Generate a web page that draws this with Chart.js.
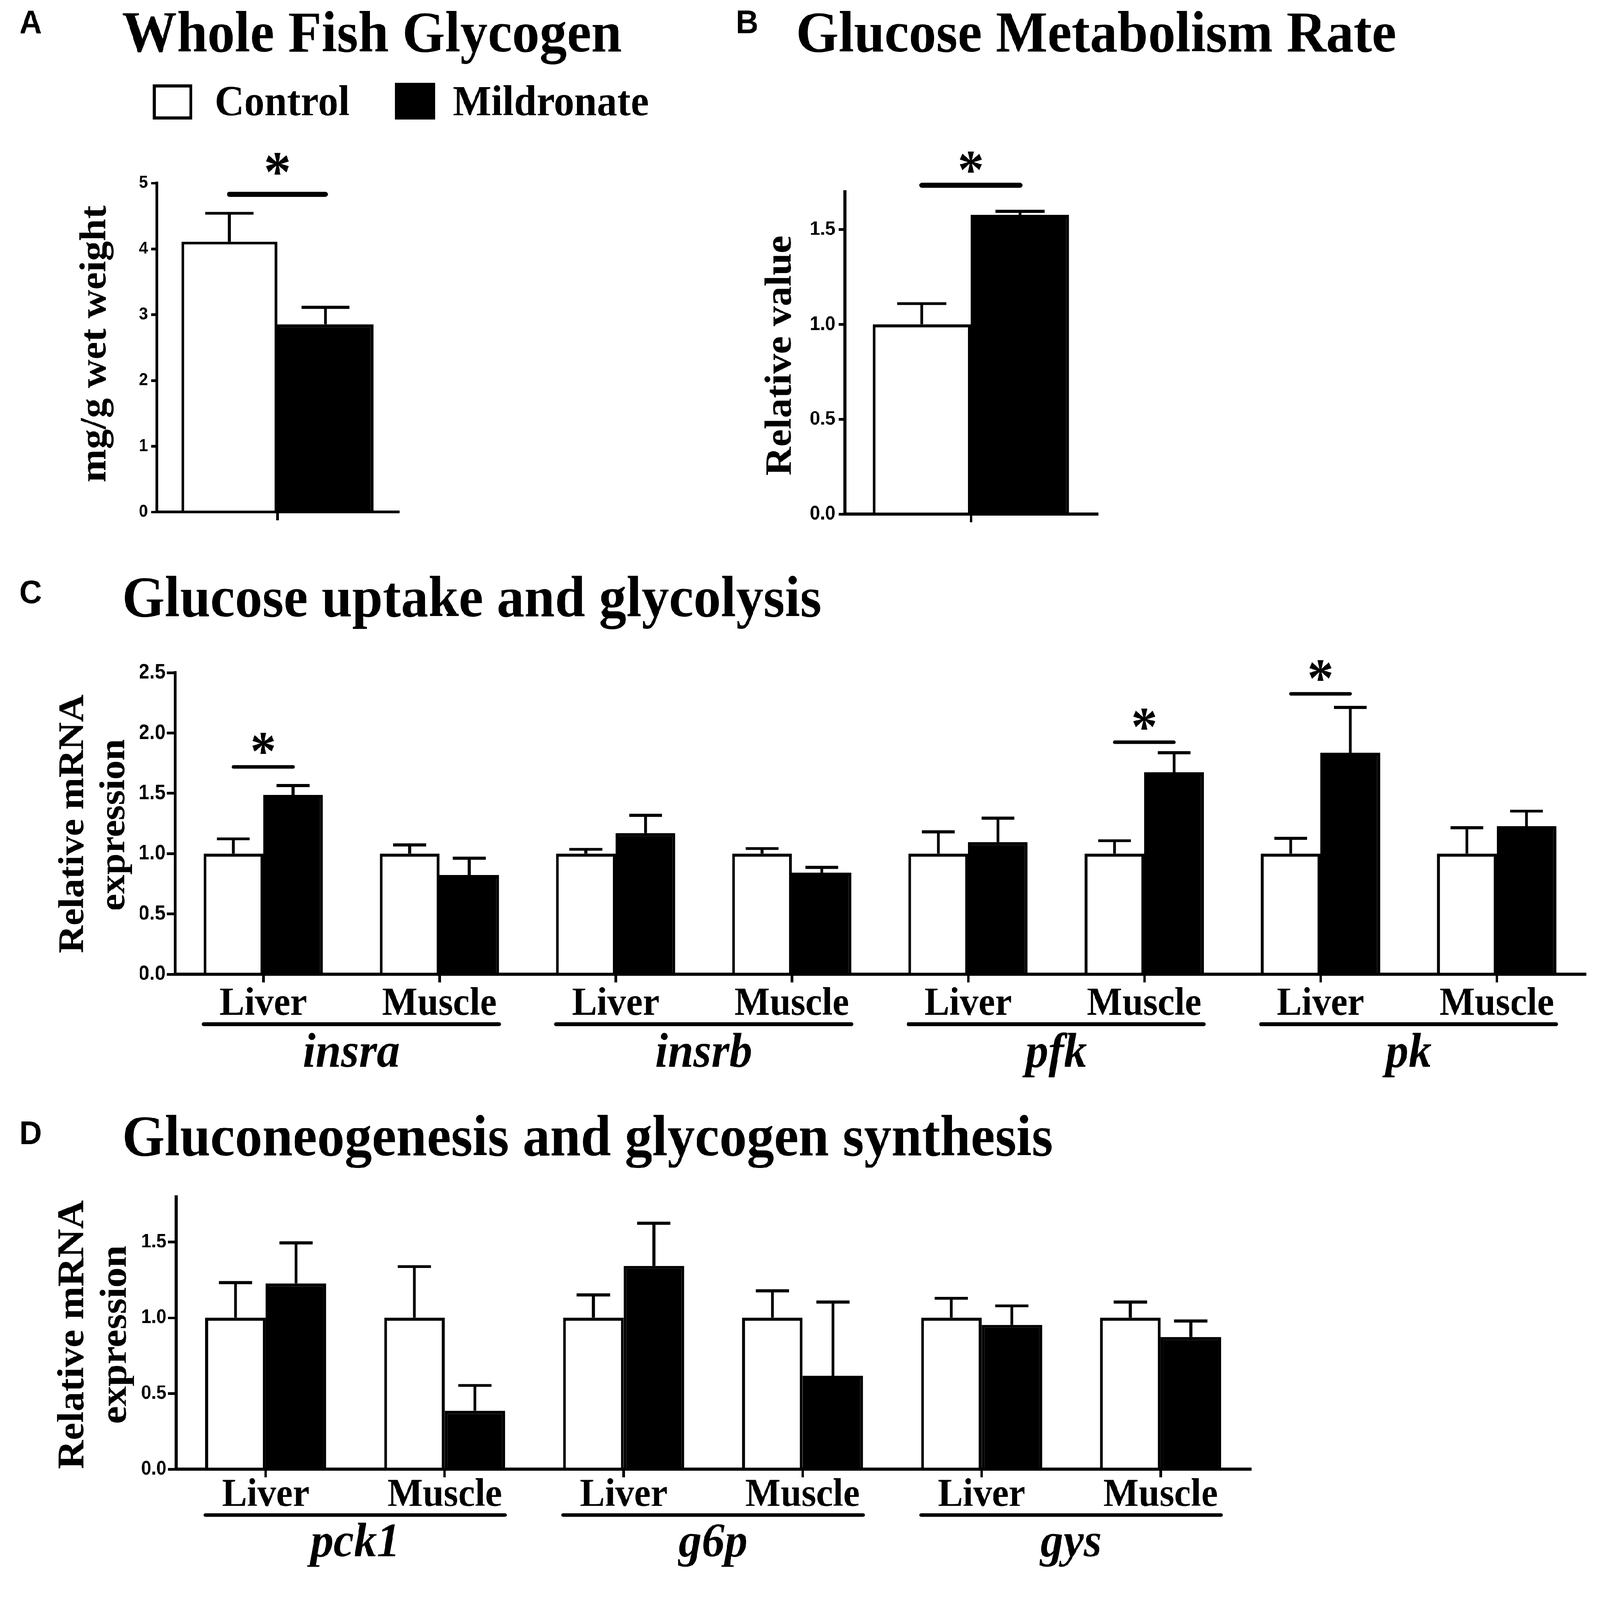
<!DOCTYPE html>
<html>
<head>
<meta charset="utf-8">
<script src="https://cdn.jsdelivr.net/npm/chart.js@4.4.1/dist/chart.umd.min.js"></script>
<style>
  html, body { margin: 0; padding: 0; background: #fff; overflow: hidden; }
  #page { position: absolute; left: 0; top: 0; width: 4522px; height: 4257px; transform-origin: 0 0; background: #fff; }
  .panel { position: absolute; }
</style>
</head>
<body>
<div id="page">
  <div class="panel" style="left:0;top:0;width:2000px;height:1480px"><canvas id="chartA" width="2000" height="1480"></canvas></div>
  <div class="panel" style="left:2000px;top:0;width:2000px;height:1480px"><canvas id="chartB" width="2000" height="1480"></canvas></div>
  <div class="panel" style="left:0;top:1480px;width:4522px;height:1460px"><canvas id="chartC" width="4522" height="1460"></canvas></div>
  <div class="panel" style="left:0;top:2940px;width:4522px;height:1317px"><canvas id="chartD" width="4522" height="1317"></canvas></div>
</div>
<script>
// ---- data ----
// A: whole fish glycogen, mg/g wet weight
var glycogenCtrl = [4.11];
var glycogenCtrlSem = [0.43];
var glycogenMild = [2.85];
var glycogenMildSem = [0.26];
var yTicksA = [0, 1, 2, 3, 4, 5];

// B: glucose metabolism rate, relative value
var rateCtrl = [1.0];
var rateCtrlSem = [0.11];
var rateMild = [1.577];
var rateMildSem = [0.02];
var yTicksB = [0, 0.5, 1.0, 1.5];

// C: glucose uptake and glycolysis
var tissuesC = ['Liver', 'Muscle', 'Liver', 'Muscle', 'Liver', 'Muscle', 'Liver', 'Muscle'];
var genesC = ['insra', 'insrb', 'pfk', 'pk'];
var ctrlC = [1, 1, 1, 1, 1, 1, 1, 1];
var ctrlSemC = [0.122, 0.072, 0.036, 0.042, 0.18, 0.107, 0.128, 0.216];
var mildC = [1.487, 0.823, 1.17, 0.842, 1.095, 1.674, 1.836, 1.228];
var mildSemC = [0.078, 0.14, 0.148, 0.045, 0.20, 0.162, 0.377, 0.125];
var sigC = [[0, 1.72], [5, 1.923], [6, 2.325]];   // [category, height of the bar]
var yTicksC = [0, 0.5, 1.0, 1.5, 2.0, 2.5];

// D: gluconeogenesis and glycogen synthesis
var tissuesD = ['Liver', 'Muscle', 'Liver', 'Muscle', 'Liver', 'Muscle'];
var genesD = ['pck1', 'g6p', 'gys'];
var ctrlD = [1, 1, 1, 1, 1, 1];
var ctrlSemD = [0.233, 0.338, 0.152, 0.178, 0.129, 0.104];
var mildD = [1.228, 0.386, 1.344, 0.618, 0.954, 0.872];
var mildSemD = [0.267, 0.167, 0.281, 0.486, 0.125, 0.107];
var yTicksD = [0, 0.5, 1.0, 1.5];

var SERIF = '"Liberation Serif", "Times New Roman", serif';
var SANS = '"Liberation Sans", Arial, sans-serif';

// fit the 4522x4257 layout into whatever viewport we get
var page = document.getElementById('page');
page.style.transform = 'scale(' + (window.innerWidth / 4522) + ',' + (window.innerHeight / 4257) + ')';

// ---- drawing helpers ----
function text(ctx, s, x, y, font, align) {
  ctx.save();
  ctx.font = font;
  ctx.fillStyle = '#000';
  ctx.textAlign = align || 'left';
  ctx.textBaseline = 'alphabetic';
  ctx.fillText(s, x, y);
  ctx.restore();
}

// rotated text, reading upwards; bx = baseline position, cy = centre
function vtext(ctx, s, bx, cy, font) {
  ctx.save();
  ctx.translate(bx, cy);
  ctx.rotate(-Math.PI / 2);
  ctx.font = font;
  ctx.fillStyle = '#000';
  ctx.textAlign = 'center';
  ctx.textBaseline = 'alphabetic';
  ctx.fillText(s, 0, 0);
  ctx.restore();
}

// asterisk centred on (cx, cy), glyph scaled to the wanted width
function star(ctx, cx, cy, glyphW) {
  ctx.save();
  ctx.font = 'bold 100px ' + SERIF;
  var m0 = ctx.measureText('*');
  var size = 100 * glyphW / (m0.actualBoundingBoxLeft + m0.actualBoundingBoxRight);
  ctx.font = 'bold ' + size + 'px ' + SERIF;
  ctx.fillStyle = '#000';
  ctx.textAlign = 'left';
  ctx.textBaseline = 'alphabetic';
  var m = ctx.measureText('*');
  var w = m.actualBoundingBoxLeft + m.actualBoundingBoxRight;
  ctx.fillText('*', cx - w / 2 + m.actualBoundingBoxLeft, cy + (m.actualBoundingBoxAscent - m.actualBoundingBoxDescent) / 2);
  ctx.restore();
}

function hline(ctx, x1, x2, y, lw, cap) {
  ctx.save();
  ctx.strokeStyle = '#000';
  ctx.lineWidth = lw;
  ctx.lineCap = cap || 'butt';
  ctx.beginPath();
  ctx.moveTo(x1, y);
  ctx.lineTo(x2, y);
  ctx.stroke();
  ctx.restore();
}

function drawSig(chart, cat, val, lw, gap, starW) {
  var c = chart.getDatasetMeta(0).data[cat];
  var m = chart.getDatasetMeta(1).data[cat];
  var y = chart.scales.y.getPixelForValue(val);
  hline(chart.ctx, c.x, m.x, y, lw, 'round');
  star(chart.ctx, (c.x + m.x) / 2, y - gap, starW);
}

// tissue names, one underline per gene and the gene name below the x axis
function drawGroups(chart, tissues, genes, off) {
  var ctx = chart.ctx, x = chart.scales.x, bottom = chart.chartArea.bottom;
  var c = chart.getDatasetMeta(0).data, m = chart.getDatasetMeta(1).data;
  tissues.forEach(function (t, i) {
    text(ctx, t, x.getPixelForValue(i), bottom + off[0], 'bold 106px ' + SERIF, 'center');
  });
  genes.forEach(function (g, k) {
    var a = 2 * k, b = 2 * k + 1;
    hline(ctx, c[a].x - c[a].width / 2, m[b].x + m[b].width / 2, bottom + off[1], 10, 'round');
    var mid = (x.getPixelForValue(a) + x.getPixelForValue(b)) / 2;
    text(ctx, g, mid, bottom + off[2], 'italic bold 130px ' + SERIF, 'center');
  });
}

var errorBars = {
  id: 'errorBars',
  afterDatasetsDraw: function (chart, args, opts) {
    var ctx = chart.ctx, y = chart.scales.y;
    chart.data.datasets.forEach(function (ds, d) {
      chart.getDatasetMeta(d).data.forEach(function (bar, i) {
        var top = y.getPixelForValue(ds.data[i] + ds.sem[i]);
        var half = bar.width * opts.cap / 2;
        ctx.save();
        ctx.strokeStyle = '#000';
        ctx.lineWidth = 8;
        ctx.beginPath();
        ctx.moveTo(bar.x, bar.y);
        ctx.lineTo(bar.x, top);
        ctx.moveTo(bar.x - half, top);
        ctx.lineTo(bar.x + half, top);
        ctx.stroke();
        ctx.restore();
      });
    });
  }
};

function datasets(ctrl, ctrlSem, mild, mildSem) {
  return [
    { label: 'Control', data: ctrl, sem: ctrlSem, backgroundColor: '#fff', borderColor: '#000', borderWidth: 8 },
    { label: 'Mildronate', data: mild, sem: mildSem, backgroundColor: '#000', borderColor: '#000', borderWidth: 8 }
  ];
}

// o: canvas size, wanted chart area, y range and ticks, tick font, bar share
function options(o) {
  return {
    responsive: false,
    animation: false,
    devicePixelRatio: 1,
    layout: { padding: { left: o.left - 100, top: o.top, right: o.w - o.right, bottom: o.h - o.bottom - 40 } },
    datasets: { bar: { categoryPercentage: o.cat, barPercentage: 1, borderSkipped: 'start' } },
    plugins: {
      legend: { display: false },
      tooltip: { enabled: false },
      errorBars: { cap: o.capFrac }
    },
    scales: {
      x: {
        ticks: { display: false },
        grid: { offset: false, drawOnChartArea: false, drawTicks: true, tickLength: 22, lineWidth: 7, color: '#000' },
        border: { display: true, color: '#000', width: 8 },
        afterFit: function (s) { s.height = 40; }
      },
      y: {
        min: 0,
        max: o.max,
        afterBuildTicks: function (s) { s.ticks = o.ticks.map(function (v) { return { value: v }; }); },
        ticks: {
          color: '#000',
          padding: o.pad,
          font: { family: SANS, weight: 'bold', size: o.font },
          callback: function (v) { return v.toFixed(o.dec); }
        },
        grid: { drawOnChartArea: false, drawTicks: true, tickLength: o.tick, lineWidth: 7, color: '#000' },
        border: { display: true, color: '#000', width: 8 },
        afterFit: function (s) { s.width = 100; }
      }
    }
  };
}

// ---- A ----
new Chart(document.getElementById('chartA'), {
  type: 'bar',
  data: { labels: [''], datasets: datasets(glycogenCtrl, glycogenCtrlSem, glycogenMild, glycogenMildSem) },
  options: options({ w: 2000, h: 1480, left: 443, right: 1125, top: 487, bottom: 1362, max: 5, ticks: yTicksA,
    dec: 0, font: 46, tick: 16, pad: 9, cat: 0.796, capFrac: 0.5 }),
  plugins: [errorBars, {
    id: 'decorA',
    afterDraw: function (chart) {
      var ctx = chart.ctx;
      text(ctx, 'A', 55, 88, 'bold 88px ' + SANS);
      text(ctx, 'Whole Fish Glycogen', 345, 137, 'bold 155px ' + SERIF);
      ctx.save();
      ctx.fillStyle = '#fff';
      ctx.strokeStyle = '#000';
      ctx.lineWidth = 8;
      ctx.fillRect(436, 229, 103, 85);
      ctx.strokeRect(436, 229, 103, 85);
      ctx.fillStyle = '#000';
      ctx.fillRect(1116, 220, 114, 98);
      ctx.restore();
      text(ctx, 'Control', 607, 307, 'bold 115px ' + SERIF);
      text(ctx, 'Mildronate', 1280, 307, 'bold 115px ' + SERIF);
      vtext(ctx, 'mg/g wet weight', 298, 915, 'bold 106px ' + SERIF);
      drawSig(chart, 0, 4.829, 14, 81, 65);
    }
  }]
});

// ---- B ----
new Chart(document.getElementById('chartB'), {
  type: 'bar',
  data: { labels: [''], datasets: datasets(rateCtrl, rateCtrlSem, rateMild, rateMildSem) },
  options: options({ w: 2000, h: 1480, left: 388, right: 1100, top: 510, bottom: 1368, max: 1.7, ticks: yTicksB,
    dec: 1, font: 52, tick: 18, pad: 9, cat: 0.78, capFrac: 0.5 }),
  plugins: [errorBars, {
    id: 'decorB',
    afterDraw: function (chart) {
      var ctx = chart.ctx;
      text(ctx, 'B', 80, 88, 'bold 88px ' + SANS);
      text(ctx, 'Glucose Metabolism Rate', 250, 137, 'bold 155px ' + SERIF);
      vtext(ctx, 'Relative value', 235, 946, 'bold 106px ' + SERIF);
      drawSig(chart, 0, 1.734, 14, 62, 62);
    }
  }]
});

// ---- C ----
new Chart(document.getElementById('chartC'), {
  type: 'bar',
  data: { labels: tissuesC, datasets: datasets(ctrlC, ctrlSemC, mildC, mildSemC) },
  options: options({ w: 4522, h: 1460, left: 495, right: 4479, top: 310, bottom: 1112, max: 2.5, ticks: yTicksC,
    dec: 1, font: 55, tick: 24, pad: 3, cat: 0.677, capFrac: 0.55 }),
  plugins: [errorBars, {
    id: 'decorC',
    afterDraw: function (chart) {
      var ctx = chart.ctx;
      text(ctx, 'C', 55, 125, 'bold 88px ' + SANS);
      text(ctx, 'Glucose uptake and glycolysis', 345, 160, 'bold 155px ' + SERIF);
      vtext(ctx, 'Relative mRNA', 235, 712, 'bold 102px ' + SERIF);
      vtext(ctx, 'expression', 351, 715, 'bold 102px ' + SERIF);
      sigC.forEach(function (s) { drawSig(chart, s[0], s[1], 9, 62, 62); });
      drawGroups(chart, tissuesC, genesC, [108, 133, 246]);
    }
  }]
});

// ---- D ----
new Chart(document.getElementById('chartD'), {
  type: 'bar',
  data: { labels: tissuesD, datasets: datasets(ctrlD, ctrlSemD, mildD, mildSemD) },
  options: options({ w: 4522, h: 1317, left: 498, right: 3533, top: 244, bottom: 969, max: 1.8, ticks: yTicksD,
    dec: 1, font: 51, tick: 23, pad: 5, cat: 0.676, capFrac: 0.55 }),
  plugins: [errorBars, {
    id: 'decorD',
    afterDraw: function (chart) {
      var ctx = chart.ctx;
      text(ctx, 'D', 55, 104, 'bold 88px ' + SANS);
      text(ctx, 'Gluconeogenesis and glycogen synthesis', 345, 134, 'bold 155px ' + SERIF);
      vtext(ctx, 'Relative mRNA', 235, 611, 'bold 106px ' + SERIF);
      vtext(ctx, 'expression', 356, 611, 'bold 106px ' + SERIF);
      drawGroups(chart, tissuesD, genesD, [98, 122, 232]);
    }
  }]
});
</script>
</body>
</html>
